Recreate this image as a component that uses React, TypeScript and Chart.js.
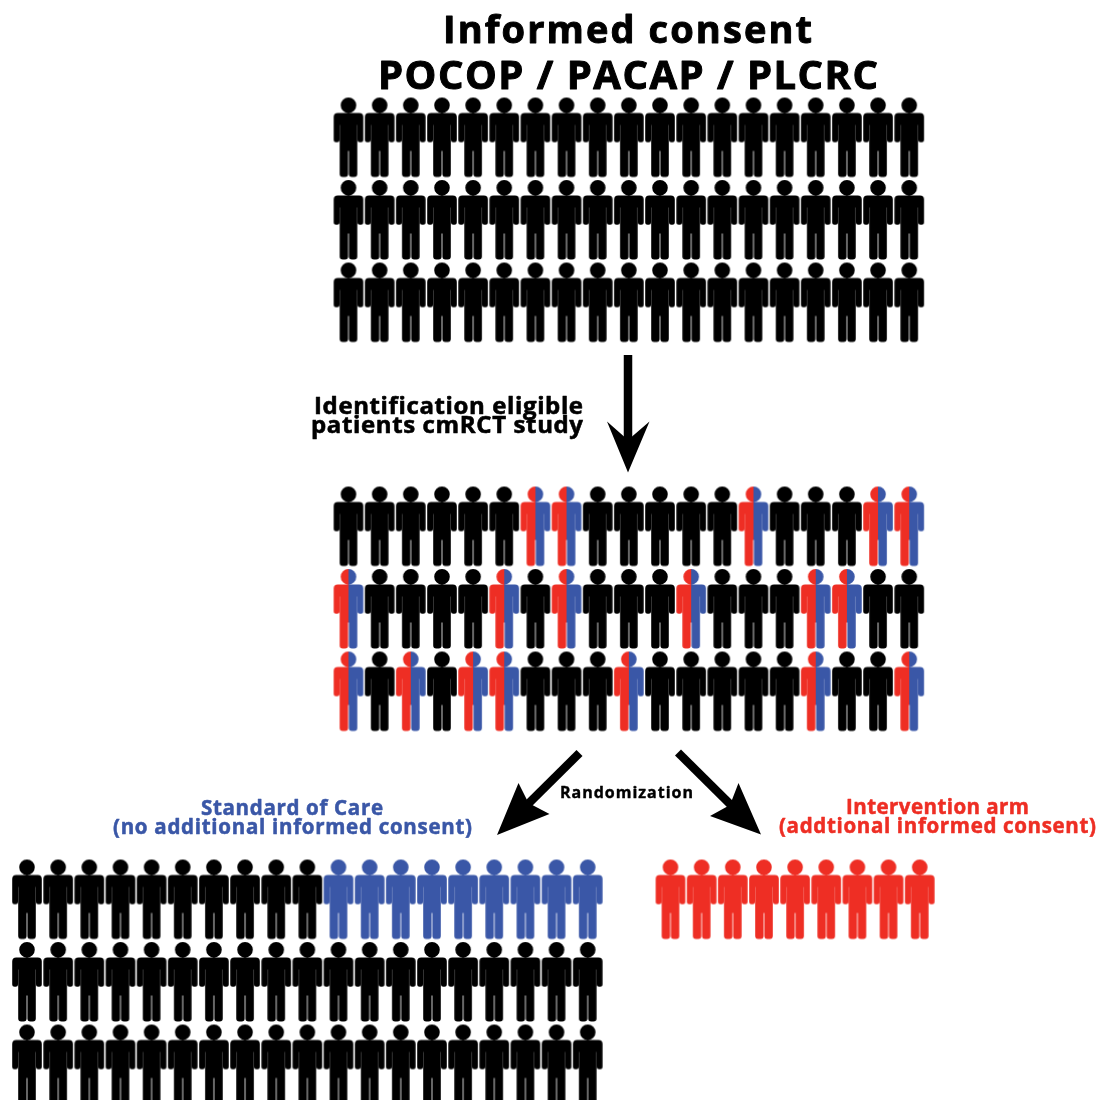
import React, { useEffect, useRef } from "react";
import { Chart, registerables } from "chart.js";

Chart.register(...registerables);

const BLACK = "#000000";
const RED = "#ee2e24";
const BLUE = "#3a57a7";

// Participant grid: 19 people across, 3 rows deep.
const columnsPerRow = 19;
const rowsPerGroup = 3;

// Columns (1-based) of eligible patients in the cmRCT cohort, one list per row.
const eligibleRow1 = [7, 8, 14, 18, 19];
const eligibleRow2 = [1, 6, 8, 12, 16, 17];
const eligibleRow3 = [1, 3, 5, 6, 10, 16, 19];

// Standard of care: columns on row 1 randomised to this arm.
const standardOfCareColumns = [11, 12, 13, 14, 15, 16, 17, 18, 19];
// Intervention arm: number of people.
const interventionColumns = [1, 2, 3, 4, 5, 6, 7, 8, 9];

const titleLines = ["Informed consent", "POCOP / PACAP / PLCRC"];
const identificationLines = ["Identification eligible", "patients cmRCT study"];
const randomizationLabel = "Randomization";
const standardOfCareLines = ["Standard of Care", "(no additional informed consent)"];
const interventionLines = ["Intervention arm", "(addtional informed consent)"];

const PITCH_X = 31.15;
const PITCH_Y = 82.5;
const groupConsent = { x: 348.5, y: 137.5 };
const groupEligible = { x: 348.5, y: 526.5 };
const groupStandard = { x: 27, y: 899.5 };
const groupIntervention = { x: 670.5, y: 899.5 };

const pt = (g: { x: number; y: number }, col: number, row: number) => ({
  x: g.x + (col - 1) * PITCH_X,
  y: g.y + (row - 1) * PITCH_Y,
});

const allCols = Array.from({ length: columnsPerRow }, (_, i) => i + 1);
const allRows = Array.from({ length: rowsPerGroup }, (_, i) => i + 1);

function makeSprite(left: string, right: string) {
  const c = document.createElement("canvas");
  c.width = 32;
  c.height = 82;
  const ctx = c.getContext("2d")!;
  const p = new Path2D();
  const cx = 16;
  const top = 1;
  p.arc(cx, top + 7.7, 7.8, 0, Math.PI * 2);
  p.roundRect(cx - 14.8, top + 15.6, 29.6, 12, [4, 4, 0, 0]);
  p.roundRect(cx - 14.8, top + 20, 5.8, 24.7, 2.5);
  p.roundRect(cx + 9, top + 20, 5.8, 24.7, 2.5);
  p.rect(cx - 8.8, top + 15.6, 17.6, 38);
  p.roundRect(cx - 8.8, top + 45, 8.4, 34.5, 3);
  p.roundRect(cx + 0.4, top + 45, 8.4, 34.5, 3);
  ctx.fillStyle = left;
  ctx.fill(p);
  if (right !== left) {
    ctx.save();
    ctx.beginPath();
    ctx.rect(cx, 0, cx, 82);
    ctx.clip();
    ctx.clearRect(cx, 0, cx, 82);
    ctx.fillStyle = right;
    ctx.fill(p);
    ctx.restore();
  }
  return c;
}

type TextItem = { text: string; x: number; w: number; y: number; size: number; color: string };
const textItems: TextItem[] = [
  { text: titleLines[0], x: 443, w: 369, y: 43, size: 38, color: BLACK },
  { text: titleLines[1], x: 378, w: 500, y: 89, size: 40, color: BLACK },
  { text: identificationLines[0], x: 314, w: 269, y: 414, size: 24, color: BLACK },
  { text: identificationLines[1], x: 311, w: 272, y: 433, size: 24, color: BLACK },
  { text: randomizationLabel, x: 560, w: 133, y: 798, size: 16, color: BLACK },
  { text: standardOfCareLines[0], x: 201, w: 182, y: 814.5, size: 20.5, color: BLUE },
  { text: standardOfCareLines[1], x: 113, w: 359, y: 833.5, size: 20.5, color: BLUE },
  { text: interventionLines[0], x: 846, w: 183, y: 813.5, size: 20.5, color: RED },
  { text: interventionLines[1], x: 779, w: 317, y: 832.5, size: 20.5, color: RED },
];

const textPlugin = {
  id: "textLabels",
  afterDatasetsDraw(chart: any) {
    const { ctx, scales } = chart;
    ctx.save();
    ctx.textAlign = "left";
    ctx.textBaseline = "alphabetic";
    ctx.lineJoin = "round";
    for (const t of textItems) {
      ctx.font = `bold ${t.size}px "Open Sans"`;
      ctx.fillStyle = t.color;
      ctx.strokeStyle = t.color;
      ctx.lineWidth = t.size * 0.025;
      ctx.letterSpacing = "0px";
      const natural = ctx.measureText(t.text).width;
      ctx.letterSpacing = `${(t.w - natural) / (t.text.length - 1)}px`;
      const px = scales.x.getPixelForValue(t.x);
      const py = scales.y.getPixelForValue(t.y);
      ctx.fillText(t.text, px, py);
      ctx.strokeText(t.text, px, py);
    }
    ctx.restore();
  },
};

const shaft = (points: number[][]) => ({
  type: "scatter" as const,
  data: points.map(([x, y]) => ({ x, y })),
  showLine: true,
  borderColor: BLACK,
  borderWidth: 8.5,
  borderCapStyle: "butt",
  pointRadius: 0,
  tension: 0,
  fill: false,
  clip: false,
});
const head = (points: number[][]) => ({
  type: "scatter" as const,
  data: points.map(([x, y]) => ({ x, y })),
  showLine: true,
  borderColor: BLACK,
  borderWidth: 0,
  backgroundColor: BLACK,
  pointRadius: 0,
  tension: 0,
  fill: "shape",
  clip: false,
});

const arrowDownShaft = [[628, 355], [628, 445]];
const arrowDownHead = [[628, 472.5], [607, 421.5], [628, 440], [649.5, 421.5]];
const arrowLeftShaft = [[579.5, 753], [524, 808]];
const arrowLeftHead = [[497, 835], [518.5, 783], [528.5, 803], [549.5, 814]];
const arrowRightShaft = [[678, 752.5], [735, 809]];
const arrowRightHead = [[761, 834.5], [738.5, 783], [730, 805], [710, 816]];

export default function App() {
  const ref = useRef<HTMLCanvasElement>(null);
  useEffect(() => {
    const black: any[] = [];
    const mixed: any[] = [];
    const blue: any[] = [];
    const red: any[] = [];
    const eligible = [eligibleRow1, eligibleRow2, eligibleRow3];

    for (const r of allRows) for (const c of allCols) black.push(pt(groupConsent, c, r));
    for (const r of allRows)
      for (const c of allCols) {
        (eligible[r - 1].includes(c) ? mixed : black).push(pt(groupEligible, c, r));
      }
    for (const r of allRows)
      for (const c of allCols) {
        (r === 1 && standardOfCareColumns.includes(c) ? blue : black).push(pt(groupStandard, c, r));
      }
    for (const c of interventionColumns) red.push(pt(groupIntervention, c, 1));

    const people = (data: any[], sprite: HTMLCanvasElement) => ({
      type: "scatter" as const,
      data,
      pointStyle: sprite,
      pointRadius: 15,
      showLine: false,
      clip: false,
    });

    const chart = new Chart(ref.current!, {
      type: "scatter",
      data: {
        datasets: [
          people(black, makeSprite(BLACK, BLACK)),
          people(mixed, makeSprite(RED, BLUE)),
          people(blue, makeSprite(BLUE, BLUE)),
          people(red, makeSprite(RED, RED)),
          shaft(arrowDownShaft),
          head(arrowDownHead),
          shaft(arrowLeftShaft),
          head(arrowLeftHead),
          shaft(arrowRightShaft),
          head(arrowRightHead),
        ] as any,
      },
      options: {
        animation: false,
        responsive: false,
        events: [],
        layout: { padding: 0, autoPadding: false },
        plugins: { legend: { display: false }, tooltip: { enabled: false }, title: { display: false } },
        scales: {
          x: { type: "linear", min: 0, max: 1100, display: false },
          y: { type: "linear", min: 0, max: 1100, reverse: true, display: false },
        },
      },
      plugins: [textPlugin],
    });
    return () => chart.destroy();
  }, []);
  return (
    <div style={{ position: "absolute", left: 0, top: 0, width: 1100, height: 1100, background: "#fff" }}>
      <canvas ref={ref} width={1100} height={1100} style={{ display: "block" }} />
    </div>
  );
}
